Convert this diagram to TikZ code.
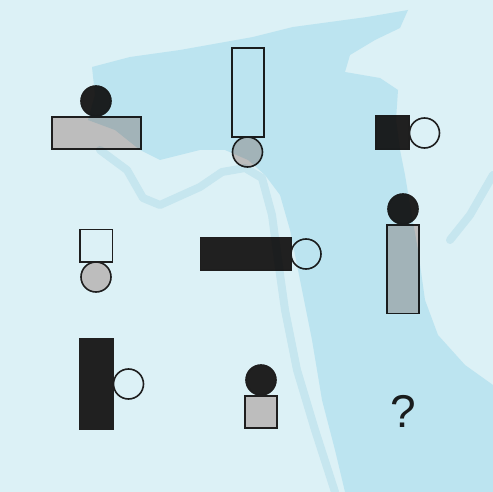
\documentclass[tikz,border=0pt]{standalone}
\usepackage{fontspec}
\setmainfont{Liberation Sans}
\definecolor{bgc}{RGB}{220,241,246}
\definecolor{wmdark}{RGB}{219,242,249}
\definecolor{wmmid}{RGB}{230,244,248}
\definecolor{ink}{RGB}{30,30,30}
\definecolor{blk}{RGB}{32,32,32}
\definecolor{gry}{RGB}{189,189,189}
\tikzset{
  shp/.style={draw=ink, line width=1.6pt},
  blackshp/.style={shp, fill=blk},
  grayshp/.style={shp, fill=gry},
  openshp/.style={shp},
}
\begin{document}
\begin{tikzpicture}[x=1pt,y=-1pt]
\fill[bgc] (0,0) rectangle (493,492);
\useasboundingbox (0,0) rectangle (493,492);
% row 1
\draw[grayshp] (52,117) rectangle (141,149);
\draw[blackshp] (96,101) circle (15);
\draw[openshp] (232,48) rectangle (264,137);
\draw[grayshp] (247.5,152) circle (15);
\draw[blackshp] (376,116) rectangle (409,149);
\draw[openshp] (424.5,133) circle (15);
% row 2
\draw[openshp] (80,229.5) rectangle (112.5,262);
\draw[grayshp] (96,277) circle (15);
\draw[blackshp] (200.5,237.5) rectangle (291,270);
\draw[openshp] (306,254) circle (15);
\draw[grayshp] (387,225) rectangle (419,313.5);
\draw[blackshp] (403,209) circle (15);
% row 3
\draw[blackshp, draw=blk] (80,339) rectangle (113,429);
\draw[openshp] (128.5,384) circle (15);
\draw[grayshp] (245,396) rectangle (277,428);
\draw[blackshp] (261,380) circle (15);
\node[text=ink, font=\fontsize{46}{46}\selectfont, inner sep=0pt] (q) at (403,411) {?};
% watermark overlay
\begin{scope}[blend mode=multiply]
\fill[wmdark] (92,67) -- (130,57) -- (180,50) -- (253,37) -- (293,27) -- (367,17) -- (408,10)
 -- (400,28) -- (375,40) -- (350,55) -- (345,72) -- (380,78) -- (398,90) -- (396,120)
 -- (400,150) -- (405,175) -- (410,205) -- (418,250) -- (425,300) -- (438,335)
 -- (465,365) -- (493,385) -- (493,492) -- (345,492) -- (335,450) -- (322,400)
 -- (312,340) -- (300,280) -- (290,230) -- (280,195) -- (265,175) -- (248,160)
 -- (225,150) -- (200,150) -- (160,160) -- (140,150) -- (115,130) -- (88,120) -- (95,95) -- cycle;
\draw[wmmid, line width=8pt, line join=round, line cap=round]
 (100,150) -- (127,170) -- (143,198) -- (160,205) -- (200,187) -- (222,172) -- (245,168) -- (262,178)
 -- (272,215) -- (278,260) -- (285,310) -- (297,370) -- (315,430) -- (335,492);
\draw[wmmid, line width=8pt, line cap=round] (450,240) -- (470,215) -- (493,175);
\end{scope}
\end{tikzpicture}
\end{document}
